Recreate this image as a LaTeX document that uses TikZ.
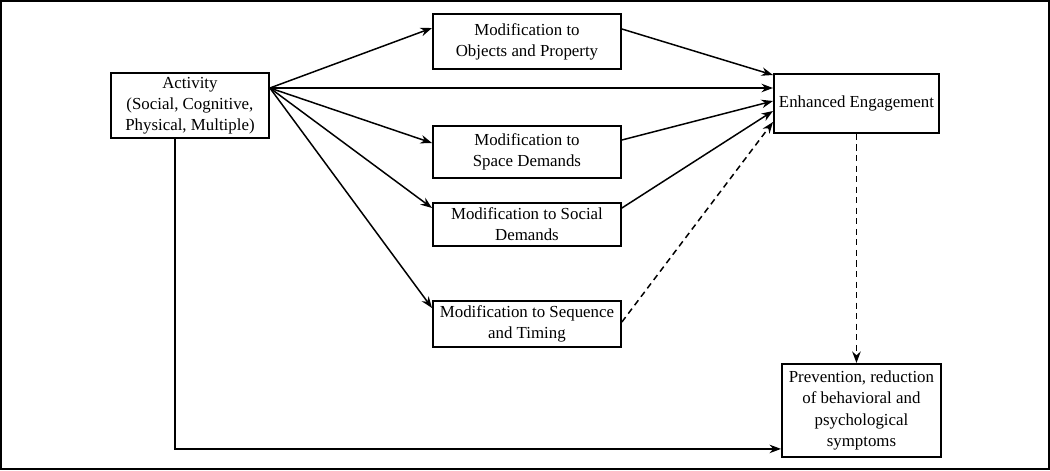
\documentclass[tikz,border=0pt]{standalone}
\usepackage{fontspec}
\setmainfont{Liberation Serif}
\usetikzlibrary{positioning,calc,arrows.meta}

\tikzset{
    box/.style={draw, line width=1.1pt, align=center, inner sep=0pt, anchor=north west,
        font=\fontsize{9.6}{12}\selectfont},
    arr/.style={-{Stealth[length=2.3mm,width=1.7mm]}, line width=0.85pt},
    dashline/.style={dash pattern=on 3.5pt off 2.5pt},
}

\begin{document}
\begin{tikzpicture}[x=0.02cm,y=-0.02cm]
\useasboundingbox (0,0) rectangle (1050,470);
\draw[line width=1.1pt] (1,1) rectangle (1049,469);
\node[box, minimum width=3.16cm, minimum height=1.3cm] (act) at (110,72) {Activity\\(Social, Cognitive,\\Physical, Multiple)};
\node[box, minimum width=3.76cm, minimum height=1.1cm] (obj) at (432,13) {Modification to\\Objects and Property};
\node[box, minimum width=3.76cm, minimum height=1.04cm] (spc) at (432,125) {Modification to\\Space Demands};
\node[box, minimum width=3.76cm, minimum height=0.86cm] (soc) at (432,202) {Modification to Social\\Demands};
\node[box, minimum width=3.76cm, minimum height=0.92cm] (seq) at (432,300) {Modification to Sequence\\and Timing};
\node[box, minimum width=3.3cm, minimum height=1.18cm] (eng) at (773,73) {Enhanced Engagement};
\node[box, minimum width=3.18cm, minimum height=1.86cm] (prev) at (781,363) {Prevention, reduction\\of behavioral and\\psychological\\symptoms};
\coordinate (src) at ($(act.north east)+(0,16)$);
\draw[arr] (src) -- ($(obj.north west)+(0,15)$);
\draw[arr] (src) -- (src -| eng.west);
\draw[arr] (src) -- ($(spc.north west)+(0,18)$);
\draw[arr] (src) -- ($(soc.north west)+(0,6)$);
\draw[arr] (src) -- ($(seq.north west)+(0,8)$);
\draw[arr] ($(obj.north east)+(0,16)$) -- ($(eng.north west)+(0,2)$);
\draw[arr] ($(spc.north east)+(0,15)$) -- ($(eng.north west)+(0,28)$);
\draw[arr] ($(soc.north east)+(0,6)$) -- ($(eng.north west)+(0,38)$);
\draw[arr, dashline] ($(seq.north east)+(0,22)$) -- ($(eng.north west)+(0,49)$);
\draw[arr, dashline] (eng.south) -- (eng.south |- prev.north);
\draw[arr] ($(act.south west)+(65,0)$) |- ($(prev.south west)+(0,-9)$);
\end{tikzpicture}
\end{document}
